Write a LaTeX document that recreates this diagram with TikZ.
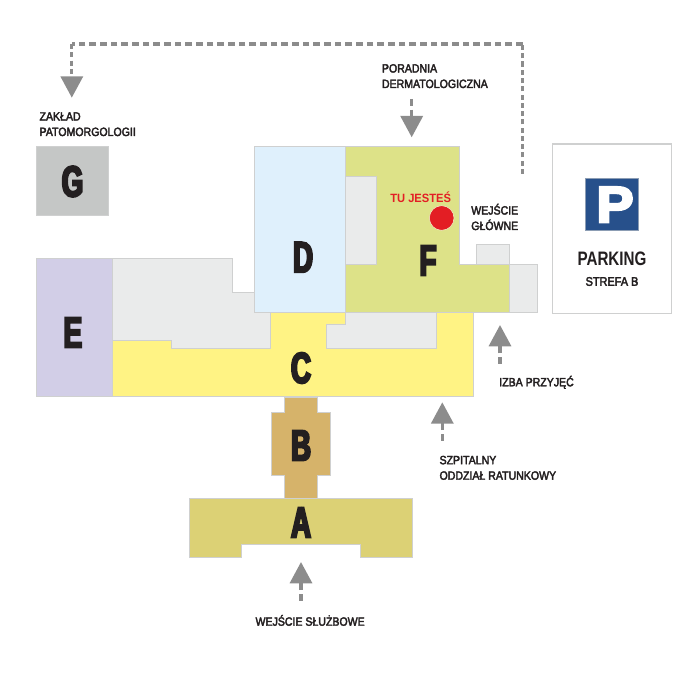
\documentclass[tikz,border=0pt]{standalone}
\usepackage{fontspec}
\usetikzlibrary{arrows.meta, positioning}
\setmainfont[FakeStretch=0.88,FakeBold=3]{Liberation Sans}
\newfontfamily\letterfont[FakeStretch=0.64,FakeBold=5]{Liberation Sans Bold}
\newfontfamily\signfont[FakeStretch=1.1,FakeBold=5]{Liberation Sans Bold}
\newfontfamily\parkfont[FakeStretch=0.78]{Liberation Sans Bold}
\newfontfamily\herefont[FakeStretch=0.93]{Liberation Sans Bold}
\definecolor{wingA}{HTML}{DCD175}
\definecolor{wingB}{HTML}{D6B36A}
\definecolor{wingC}{HTML}{FFF384}
\definecolor{wingD}{HTML}{DFF0FC}
\definecolor{wingE}{HTML}{D2CEE7}
\definecolor{wingF}{HTML}{DDE288}
\definecolor{wingG}{HTML}{C5C7C6}
\definecolor{wingX}{HTML}{EAEBEB}
\definecolor{edgeX}{HTML}{CFD0D0}
\definecolor{routeX}{HTML}{8C8C8C}
\definecolor{signX}{HTML}{27508B}
\definecolor{hereX}{HTML}{E31E24}
\definecolor{textX}{HTML}{231F20}

\begin{document}
\begin{tikzpicture}[
  x=0.75pt, y=-0.75pt,
  wing/.style={draw=edgeX, line width=0.6pt, line join=miter},
  letter/.style={inner sep=0pt, text=textX, font=\letterfont\fontsize{32.5}{32.5}\selectfont},
  caption/.style={inner sep=0pt, anchor=base west, align=left, text=textX,
                  font=\fontsize{9}{11.6}\selectfont},
  route/.style={draw=routeX, line width=2.5pt, dash pattern=on 5.2pt off 2.8pt},
  routeup/.style={draw=routeX, line width=2.5pt, dash pattern=on 3.8pt off 2.4pt},
  head/.style={-{Triangle[length=16pt, width=16.5pt, fill=routeX]}},
]
\useasboundingbox (0,0) rectangle (700,677);

\draw[wing, fill=wingX] (476.7,244) rectangle (509.3,264.7);
\draw[wing, fill=wingX] (509.3,264.7) rectangle (537.3,312.7);
\draw[wing, fill=wingX] (112.7,258.7) -- (232.7,258.7) -- (232.7,292.3) -- (254,292.3) -- (254,312.7)
  -- (270.7,312.7) -- (270.7,348.7) -- (171.7,348.7) -- (171.7,340.7) -- (112.7,340.7) -- cycle;
\draw[wing, fill=wingC] (112.7,340.7) -- (171.7,340.7) -- (171.7,348.7) -- (270.7,348.7) -- (270.7,312.7)
  -- (473.3,312.7) -- (473.3,396.7) -- (112.7,396.7) -- cycle;
\draw[wing, fill=wingX] (345,312.7) -- (436.7,312.7) -- (436.7,348) -- (326.7,348) -- (326.7,324) -- (345,324) -- cycle;
\draw[wing, fill=wingF] (345,146.7) -- (459.3,146.7) -- (459.3,264.7) -- (509.3,264.7) -- (509.3,312.7) -- (345,312.7) -- cycle;
\draw[wing, fill=wingX] (345,176.7) rectangle (376.7,264.7);
\draw[wing, fill=wingD] (254,146.7) rectangle (345,312.7);
\draw[wing, fill=wingE] (36.7,258.7) rectangle (112.7,396.7);
\draw[wing, fill=wingG] (36.7,146) rectangle (108.7,215);
\draw[wing, fill=wingB] (284,397) -- (317.7,397) -- (317.7,412.7) -- (330.7,412.7) -- (330.7,475.3) -- (317.7,475.3)
  -- (317.7,498.3) -- (284,498.3) -- (284,475.3) -- (271,475.3) -- (271,412.7) -- (284,412.7) -- cycle;
\draw[wing, fill=wingA] (189.3,498.3) -- (412.7,498.3) -- (412.7,557.3) -- (360.3,557.3) -- (360.3,544)
  -- (241.3,544) -- (241.3,557.3) -- (189.3,557.3) -- cycle;
\draw[draw=edgeX, line width=0.9pt, fill=white] (552.7,144) rectangle (671.3,313.3);

\node[letter] (lA) at (301,522.5) {A};
\node[letter] (lB) at (301,445.5) {B};
\node[letter] (lC) at (301,368) {C};
\node[letter] (lD) at (303,257.2) {D};
\node[letter] (lE) at (72.8,332.5) {E};
\node[letter] (lF) at (428,260.5) {F};
\node[letter] (lG) at (72.5,181.5) {G};

\node[draw=edgeX!60!signX, line width=0.3pt, fill=signX, minimum width=39.5pt, minimum height=38.5pt, inner sep=0pt] (sign) at (611.8,204.2) {};
\node[inner sep=0pt, text=white, font=\signfont\fontsize{38}{38}\selectfont] (signP) at (615,204.7) {P};
\node[inner sep=0pt, text=textX, font=\parkfont\fontsize{14.6}{14.6}\selectfont] (park) at (612,258.3) {PARKING};
\node[inner sep=0pt, text=textX, font=\fontsize{9.3}{9.3}\selectfont] (zone) at (612,281.5) {STREFA B};

\node[circle, fill=hereX, draw=white!60!wingF, line width=0.4pt, minimum size=18.5pt, inner sep=0pt] (here) at (441.7,218) {};
\node[inner sep=0pt, text=hereX, font=\herefont\fontsize{9}{9}\selectfont] (herelabel) at (420.7,197.2) {TU JESTEŚ};

\node[caption] (tG) at (39.3,136) {ZAKŁAD\\PATOMORGOLOGII};
\node[caption] (tF) at (381.7,88) {PORADNIA\\DERMATOLOGICZNA};
\node[caption] (tMain) at (471,230) {WEJŚCIE\\GŁÓWNE};
\node[caption] (tAdm) at (499,386.3) {IZBA PRZYJĘĆ};
\node[caption] (tER) at (439.3,479.7) {SZPITALNY\\ODDZIAŁ RATUNKOWY};
\node[caption] (tStaff) at (255.3,625.7) {WEJŚCIE SŁUŻBOWE};

\coordinate (g1) at (522.8,174);
\coordinate (g2) at (522.8,44);
\coordinate (g3) at (71.8,44);
\coordinate (g4) at (71.8,97.7);
\coordinate (f1) at (411.7,99);
\coordinate (f2) at (411.7,137.3);
\coordinate (i1) at (500,364);
\coordinate (i2) at (500,325);
\coordinate (s1) at (442.3,440.7);
\coordinate (s2) at (442.3,402.3);
\coordinate (w1) at (301,600.7);
\coordinate (w2) at (301,562);

\draw[routeup] (g1) -- (g2);
\draw[route] (g2) -- (g3);
\draw[routeup, head] (g3) -- (g4);
\draw[route, head] (f1) -- (f2);
\draw[route, head] (i1) -- (i2);
\draw[route, head] (s1) -- (s2);
\draw[route, head] (w1) -- (w2);
\end{tikzpicture}
\end{document}
